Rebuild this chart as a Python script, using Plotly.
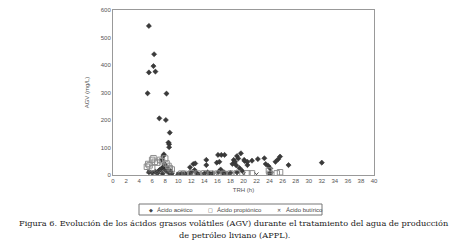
import plotly.graph_objects as go

# Ácido acético
acetic_x = [5.5, 6.3, 6.2, 5.5, 6.5, 5.3, 8.2, 7.1, 8.1, 8.7, 8.5, 8.6, 8.6, 7.8, 7.7, 7.5,
            5.5, 6.0, 6.5, 7.0, 7.2, 7.5, 7.8, 8.0, 8.2, 8.4, 8.6, 8.8, 9.0, 7.6, 6.8, 8.0, 7.9, 8.3,
            10.0, 10.5, 11.0, 11.5, 11.8, 12.0, 12.3, 12.5, 12.8, 13.0, 12.6,
            14.0, 14.3, 14.3, 14.5, 14.8, 15.0, 15.3,
            15.9, 16.1, 16.3, 16.6, 17.1, 16.5, 16.2, 17.0, 17.5, 16.8,
            18.3, 18.5, 18.7, 18.9, 19.0, 19.2, 19.6, 19.4, 19.8, 20.1, 20.2, 20.6, 20.6, 18.0, 19.0,
            21.3, 22.2, 23.2, 23.4, 23.8, 24.1, 24.2, 24.9, 25.3, 25.6, 26.9, 24.0,
            32.0]
acetic_y = [542, 439, 396, 373, 376, 297, 296, 206, 200, 154, 118, 112, 101, 75, 69, 55,
            10, 8, 12, 15, 20, 25, 30, 18, 22, 12, 8, 15, 5, 5, 6, 35, 40, 28,
            3, 5, 6, 4, 28, 10, 40, 18, 8, 3, 42,
            5, 55, 36, 10, 4, 3, 6,
            45, 73, 48, 73, 73, 20, 12, 10, 5, 8,
            40, 55, 48, 35, 69, 60, 79, 25, 15, 55, 50, 36, 48, 8, 10,
            52, 58, 61, 40, 33, 24, 10, 48, 57, 67, 36, 5,
            45]

# Ácido propiónico
prop_x = [5.2, 5.4, 5.6, 6.0, 6.2, 6.4, 6.8, 7.2, 7.5, 8.0, 8.2, 8.5, 8.7, 6.0, 9.0,
          10.5, 11.0, 12.0, 13.0, 14.0, 15.0, 16.0, 17.0, 18.0, 19.0, 20.6, 21.3, 23.9, 25.1, 25.6, 24.0]
prop_y = [30, 40, 35, 55, 61, 48, 45, 55, 50, 60, 42, 33, 25, 25, 20,
          5, 4, 6, 5, 6, 5, 5, 4, 5, 6, 6, 6, 16, 6, 10, 4]

# Ácido butírico
but_x = [5.5, 6.0, 6.5, 7.0, 7.5, 8.0, 8.5, 9.0, 10.0, 11.0, 12.0, 13.0, 14.0, 15.0,
         16.0, 17.0, 18.0, 19.0, 20.0, 22.0, 24.0]
but_y = [12, 10, 8, 10, 12, 15, 10, 8, 4, 3, 5, 4, 3, 2, 4, 3, 3, 2, 3, 2, 3]

x_ticks = list(range(0, 41, 2))
y_ticks = [0, 100, 200, 300, 400, 500, 600]

series_names = ["Ácido acético", "Ácido propiónico", "Ácido butírico"]
legend_glyphs = ["◆", "□", "✕"]

# page body has an 8px default margin; compensate so the screen layout matches
OFF = 8
W, H = 472, 249
PL, PR, PT, PB = 113, 374, 10, 175          # plot area in screen pixels
L, T = PL - OFF, PT - OFF
R, B = W - (PR - OFF), H - (PB - OFF)
PW, PH = PR - PL, PB - PT


def px(x):
    return (x - PL) / PW


def py(y):
    return (PB - y) / PH


fig = go.Figure()
fig.add_trace(go.Scatter(x=acetic_x, y=acetic_y, mode="markers", name=series_names[0],
                         marker=dict(symbol="diamond", size=4, color="#3a3a3a",
                                     line=dict(width=0.5, color="#2a2a2a"))))
fig.add_trace(go.Scatter(x=prop_x, y=prop_y, mode="markers", name=series_names[1],
                         marker=dict(symbol="square-open", size=5.5, color="#8f8f8f",
                                     line=dict(width=1))))
fig.add_trace(go.Scatter(x=but_x, y=but_y, mode="markers", name=series_names[2],
                         marker=dict(symbol="x-thin-open", size=4, color="#555555",
                                     line=dict(width=1, color="#555555"))))

axis_font = dict(family="Liberation Sans, Arial, sans-serif", size=6, color="#555")
fig.update_layout(
    width=W, height=H,
    margin=dict(l=L, r=R, t=T, b=B, autoexpand=False),
    paper_bgcolor="white", plot_bgcolor="white",
    font=axis_font,
    showlegend=False,
    xaxis=dict(range=[0, 40], tickvals=x_ticks, showgrid=False, zeroline=False,
               showline=True, linecolor="#999", linewidth=1, mirror=True, ticks="",
               tickfont=axis_font, ticklabeloverflow="allow",
               title=dict(text="TRH (h)", font=axis_font, standoff=4)),
    yaxis=dict(range=[0, 600], tickvals=y_ticks, showgrid=False, zeroline=False,
               showline=True, linecolor="#999", linewidth=1, mirror=True, ticks="",
               tickfont=axis_font, ticklabeloverflow="allow",
               title=dict(text="AGV (mg/L)", font=axis_font, standoff=10)),
)

# legend box
fig.add_shape(type="rect", xref="paper", yref="paper",
              x0=px(139), x1=px(322), y0=py(204), y1=py(215),
              line=dict(color="#777", width=1), fillcolor="white")
leg_font = dict(family="Liberation Sans, Arial, sans-serif", size=6, color="#444")
leg_sym_x = [151, 210, 279]
leg_txt_x = [155, 215, 284]
for i in range(3):
    fig.add_annotation(text=legend_glyphs[i], xref="paper", yref="paper",
                       x=px(leg_sym_x[i]), y=py(209.7), xanchor="center", yanchor="middle",
                       showarrow=False, font=dict(family="DejaVu Sans", size=5, color="#444"))
    fig.add_annotation(text=series_names[i], xref="paper", yref="paper",
                       x=px(leg_txt_x[i]), y=py(209.7), xanchor="left", yanchor="middle",
                       showarrow=False, font=leg_font)

cap_font = dict(family="DejaVu Serif, Liberation Serif, serif", size=8.2, color="#222")
fig.add_annotation(
    text="Figura 6. Evolución de los ácidos grasos volátiles (AGV) durante el tratamiento del agua de producción",
    xref="paper", yref="paper", x=px(234), y=py(222.5), xanchor="center", yanchor="middle",
    showarrow=False, font=cap_font)
fig.add_annotation(
    text="de petróleo liviano (APPL).",
    xref="paper", yref="paper", x=px(234), y=py(235), xanchor="center", yanchor="middle",
    showarrow=False, font=cap_font)

fig.write_html("out.html")
